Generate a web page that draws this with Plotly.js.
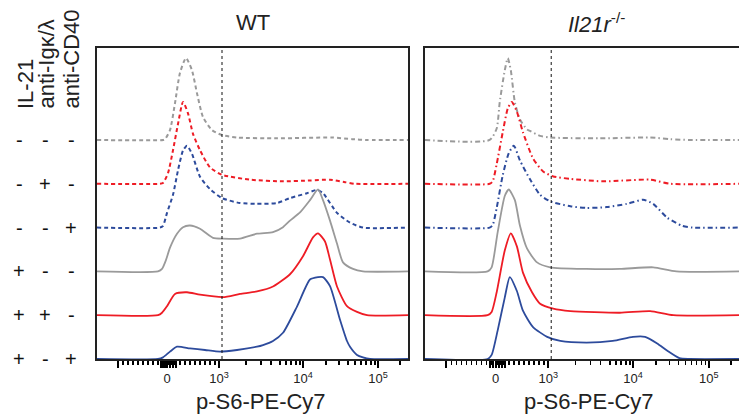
<!DOCTYPE html>
<html>
<head>
<meta charset="utf-8">
<script src="https://cdn.plot.ly/plotly-3.0.1.min.js"></script>
<style>html,body{margin:0;padding:0;background:#fff;}#chart{width:739px;height:416px;}</style>
</head>
<body>
<div id="chart"></div>
<script>
// ---- Data (x in display channel units of the biexponential axis, h in % of mode) ----
const panelTitles = ['WT', '<i>Il21r</i><sup>-/-</sup>'];
const rowBaselines = [5, 4, 3, 2, 1, 0]; // top to bottom
const signIL21   = ['-', '-', '-', '+', '+', '+'];
const signAntiIg = ['-', '+', '-', '-', '+', '-'];
const signCD40   = ['-', '-', '+', '-', '-', '+'];
const conditionLabels = ['IL-21', 'anti-Igκ/λ', 'anti-CD40'];
const gateX = 125;

// WT panel
const wt1x = [0, 66, 68, 73, 78, 83, 89, 95, 100, 106, 115, 125, 140, 180, 235, 255, 270, 311];
const wt1h = [0, 0, 1, 12, 45, 82, 100, 85, 57, 28, 12, 6, 3, 2, 3, 1, 0, 0];
const wt2x = [0, 63, 66, 71, 76, 81, 86, 91, 96, 103, 113, 125, 153, 186, 213, 233, 248, 258, 311];
const wt2h = [0, 0, 1, 13, 41, 73, 100, 86, 61, 41, 20, 11, 5, 3, 4, 5, 2, 0, 0];
const wt3x = [0, 63, 66, 70, 76, 81, 86, 90, 95, 103, 113, 125, 143, 160, 180, 193, 210, 220, 226, 240, 253, 266, 311];
const wt3h = [0, 0, 2, 18, 40, 70, 94, 100, 90, 62, 47, 36, 30, 29, 30, 36, 42, 46, 42, 18, 6, 0, 0];
const wt4x = [0, 61, 65, 69, 73, 80, 86, 93, 103, 116, 126, 143, 160, 176, 186, 193, 203, 213, 221, 226, 233, 240, 246, 256, 266, 311];
const wt4h = [0, 0, 3, 14, 29, 46, 54, 56, 52, 41, 40, 40, 46, 48, 54, 62, 72, 87, 100, 87, 62, 34, 11, 3, 0, 0];
const wt5x = [0, 61, 65, 70, 78, 90, 103, 126, 143, 160, 176, 193, 206, 216, 221, 228, 233, 240, 250, 260, 270, 311];
const wt5h = [0, 0, 3, 11, 26, 28, 25, 22, 26, 29, 35, 50, 72, 95, 100, 90, 68, 35, 11, 4, 0, 0];
const wt6x = [0, 61, 66, 73, 80, 93, 108, 123, 140, 160, 166, 176, 186, 200, 213, 221, 226, 233, 243, 250, 253, 260, 266, 273, 311];
const wt6h = [0, 0, 2, 9, 15, 13, 11, 9, 11, 15, 17, 22, 32, 64, 97, 100, 100, 89, 48, 22, 15, 5, 2, 0, 0];

// Il21r-/- panel
const ko1x = [0, 64, 71, 74, 79, 82, 85, 89, 94, 101, 104, 114, 124, 173, 223, 243, 262, 311];
const ko1h = [0, 0, 14, 46, 85, 100, 85, 46, 25, 13, 11, 5, 3, 2, 3, 1, 0, 0];
const ko2x = [0, 64, 67, 71, 77, 82, 86, 91, 97, 107, 117, 127, 144, 176, 223, 243, 311];
const ko2h = [0, 0, 3, 24, 63, 92, 100, 88, 63, 31, 15, 9, 6, 3, 5, 0, 0];
const ko3x = [0, 64, 67, 71, 77, 83, 88, 94, 104, 114, 124, 144, 160, 180, 200, 216, 226, 240, 255, 265, 311];
const ko3h = [0, 0, 3, 24, 64, 91, 100, 82, 59, 40, 32, 26, 24, 25, 29, 34, 29, 12, 2, 0, 0];
const ko4x = [0, 62, 66, 72, 79, 83, 89, 94, 101, 111, 124, 160, 193, 226, 249, 311];
const ko4h = [0, 0, 5, 48, 92, 100, 87, 56, 28, 11, 5, 3, 3, 5, 0, 0];
const ko5x = [0, 62, 66, 71, 79, 85, 91, 97, 106, 114, 127, 144, 193, 223, 246, 311];
const ko5h = [0, 0, 4, 28, 79, 100, 84, 52, 28, 14, 8, 5, 3, 5, 0, 0];
const ko6x = [0, 62, 66, 72, 79, 84, 91, 97, 107, 121, 134, 160, 186, 206, 218, 230, 240, 252, 262, 311];
const ko6h = [0, 0, 5, 35, 75, 100, 83, 59, 39, 27, 22, 20, 22, 27, 27, 19, 10, 1, 0, 0];

// Axis ticks (biexponential display positions)
const majorTickVals = [21, 70, 122, 206, 281];
const majorTickText = ['', '0', '10<sup>3</sup>', '10<sup>4</sup>', '10<sup>5</sup>'];
const zeroClusterTicks = [64.5, 67.5, 73, 76, 79];
const minorTickVals = [26, 31, 36, 41, 46, 51, 56, 61, 66, 71.5, 74.5, 77.5, 83, 88, 93, 98, 103, 108, 113, 118,
  149, 164, 174, 183, 189, 194, 199, 203, 229, 242, 251, 258, 264, 269, 274, 278, 303];

// ---- Styles ----
const FONT = 'Liberation Sans, Arial, Helvetica, sans-serif';
const GRAY = '#9a9a9a', RED = '#ee1c25', BLUE = '#2d4b9c';
const rowColors = [GRAY, RED, BLUE, GRAY, RED, BLUE];
const peakUnits = 1.87; // height of a 100% mode in row units

const wtX = [wt1x, wt2x, wt3x, wt4x, wt5x, wt6x];
const wtH = [wt1h, wt2h, wt3h, wt4h, wt5h, wt6h];
const koX = [ko1x, ko2x, ko3x, ko4x, ko5x, ko6x];
const koH = [ko1h, ko2h, ko3h, ko4h, ko5h, ko6h];

const traces = [];
function addPanel(xs, hs, xa, ya, dashStim) {
  for (let r = 0; r < 6; r++) {
    const base = rowBaselines[r];
    traces.push({
      type: 'scatter', mode: 'lines', xaxis: xa, yaxis: ya,
      x: xs[r], y: hs[r].map(v => base + v / 100 * peakUnits),
      line: { color: rowColors[r], width: r < 3 ? 2 : 1.8, shape: 'spline', smoothing: 0.6,
              dash: r < 3 ? dashStim : 'solid' },
      hoverinfo: 'skip'
    });
  }
}
addPanel(wtX, wtH, 'x', 'y', '4px,3px');
addPanel(koX, koH, 'x2', 'y2', '5px,3px,1.5px,3px');

const allTickVals = majorTickVals.concat(zeroClusterTicks);
const allTickText = majorTickText.concat(zeroClusterTicks.map(() => ''));

function xAxis(domain, anchor) {
  return {
    domain: domain, anchor: anchor, range: [0, 311],
    tickmode: 'array', tickvals: allTickVals, ticktext: allTickText, tickangle: 0,
    ticks: 'outside', ticklen: 7, tickwidth: 2.2, tickcolor: '#000',
    tickfont: { family: FONT, size: 13, color: '#222' },
    minor: { tickmode: 'array', tickvals: minorTickVals, ticks: 'outside', ticklen: 4,
             tickwidth: 1.5, tickcolor: '#000', showgrid: false },
    showline: true, linecolor: '#222', linewidth: 1.6, mirror: true,
    showgrid: false, zeroline: false, fixedrange: true
  };
}
function yAxis(anchor, mirror) {
  return {
    anchor: anchor, domain: [0, 1], range: [0, 7.1],
    showticklabels: false, ticks: '', showgrid: false, zeroline: false,
    showline: true, linecolor: '#222', linewidth: 1.6, mirror: mirror, fixedrange: true
  };
}

const W = 739, H = 416, ML = 97, MT = 48, MB = 57;
const plotW = W - ML, plotH = H - MT - MB;
const px2x = p => (p - ML) / plotW;
const px2y = p => (H - MB - p) / plotH;

const annotations = [];
// panel titles
[253, 596].forEach((cx, i) => annotations.push({
  xref: 'paper', yref: 'paper', x: px2x(cx), y: px2y(23), xanchor: 'center', yanchor: 'middle',
  text: panelTitles[i], showarrow: false, font: { family: FONT, size: 22, color: '#222' }
}));
// x-axis titles
[261, 589].forEach(cx => annotations.push({
  xref: 'paper', yref: 'paper', x: px2x(cx), y: px2y(401), xanchor: 'center', yanchor: 'middle',
  text: 'p-S6-PE-Cy7', showarrow: false, font: { family: FONT, size: 22, color: '#222' }
}));
// rotated condition labels
[25, 46, 71].forEach((cx, i) => annotations.push({
  xref: 'paper', yref: 'paper', x: px2x(cx), y: px2y(111), xanchor: 'center', yanchor: 'bottom',
  textangle: -90, text: conditionLabels[i], showarrow: false,
  font: { family: FONT, size: 22, color: '#222' }
}));
// plus / minus signs
const signCols = [signIL21, signAntiIg, signCD40];
const signX = [19, 45, 71];
for (let r = 0; r < 6; r++) {
  for (let c = 0; c < 3; c++) {
    annotations.push({
      xref: 'paper', yref: 'y', x: px2x(signX[c]), y: rowBaselines[r], xanchor: 'center', yanchor: 'middle',
      text: signCols[c][r], showarrow: false, font: { family: FONT, size: 20, color: '#111' }
    });
  }
}

const shapes = [['x', 'y domain'], ['x2', 'y2 domain']].map(([xr, yr]) => ({
  type: 'line', xref: xr, yref: yr, x0: gateX, x1: gateX, y0: 0, y1: 1,
  line: { color: '#111', width: 1, dash: 'dot' }
}));

const layout = {
  width: W, height: H, margin: { l: ML, r: 0, t: MT, b: MB, pad: 0 },
  paper_bgcolor: '#fff', plot_bgcolor: '#fff', showlegend: false,
  font: { family: FONT },
  xaxis: xAxis([0, 311 / plotW], 'y'),
  yaxis: yAxis('x', true),
  xaxis2: xAxis([(425 - ML) / plotW, 1], 'y2'),
  yaxis2: yAxis('x2', false),
  annotations: annotations, shapes: shapes
};

Plotly.newPlot('chart', traces, layout, { staticPlot: true, displayModeBar: false });
</script>
</body>
</html>
